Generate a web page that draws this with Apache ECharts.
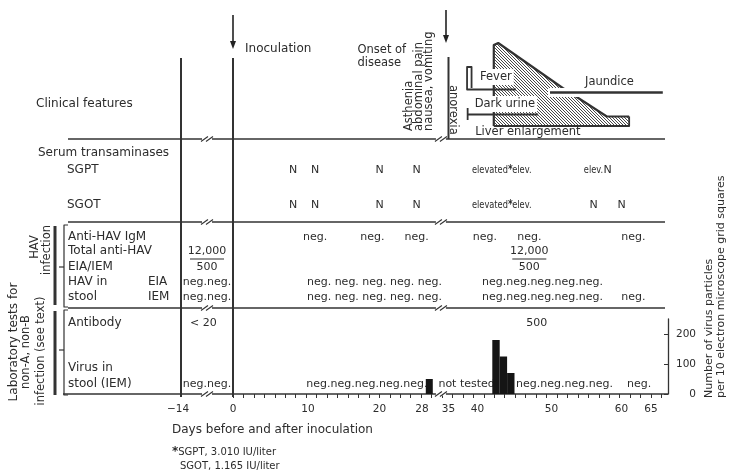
<!DOCTYPE html>
<html>
<head>
<meta charset="utf-8">
<title>Course of hepatitis after inoculation</title>
<script src="https://cdn.jsdelivr.net/npm/echarts@6/dist/echarts.min.js"></script>
<style>
  html, body { margin: 0; padding: 0; background: #ffffff; }
  #chart { width: 729px; height: 473px; }
</style>
</head>
<body>
<div id="chart"></div>
<script>
// ---------------- data ----------------
const dayTickLabels = [-14, 0, 10, 20, 28, 35, 40, 50, 60, 65];
const inoculationDay = 0;
const onsetDay = 35;

// virus particles per 10 electron-microscope grid squares (IEM of stool)
const virusDays = [29, 42, 43, 44];
const virusCounts = [50, 180, 125, 70];
const virusTicks = [0, 100, 200];

// serum transaminases
const sgptDays = [8, 11, 20, 27, 42, 46, 56, 58];
const sgptResults = ['N', 'N', 'N', 'N', 'elevated*', 'elev.', 'elev.', 'N'];
const sgotDays = [8, 11, 20, 27, 42, 46, 56, 60];
const sgotResults = ['N', 'N', 'N', 'N', 'elevated*', 'elev.', 'N', 'N'];

// HAV tests; runs are [first day, last day, results]
const igmDays = [11, 19, 27, 41, 47, 62];
const igmResults = ['neg.', 'neg.', 'neg.', 'neg.', 'neg.', 'neg.'];
const totalAntiHav = [[-14, 0, '12,000', '500'], [47, 47, '12,000', '500']];
const stoolEIA = [[-14, 0, 'neg.neg.'], [10, 33, 'neg. neg. neg. neg. neg.'], [40, 58, 'neg.neg.neg.neg.neg.']];
const stoolIEM = [[-14, 0, 'neg.neg.'], [10, 33, 'neg. neg. neg. neg. neg.'], [40, 58, 'neg.neg.neg.neg.neg.'], [62, 62, 'neg.']];

// non-A, non-B tests
const nanbAntibody = [[-14, -2, '< 20'], [48, 48, '500']];
const nanbVirusStool = [[-14, 0, 'neg.neg.'], [10, 29, 'neg.neg.neg.neg.neg.'], [33, 42, 'not tested'], [45, 59, 'neg.neg.neg.neg.'], [63, 63, 'neg.']];

// clinical features
const prodromeNames = ['Asthenia', 'abdominal pain', 'nausea, vomiting'];
const prodromeDays = [25.5, 27.4, 29.8];
const anorexiaDay = 35.7;
const feverSpan = [38.2, 45.2];
const darkUrineSpan = [38.3, 48.2];
const jaundiceSpan = [49.8, 67];
const liverStartDay = 39.6;
// hatched jaundice / dark-urine block: [day, relative intensity]
const jaundiceProfile = [[42.2, 0], [42.2, 81], [42.8, 83], [51.6, 38], [53.6, 29], [57.9, 9.5], [61.3, 9.5], [61.3, 0]];

// ---------------- scales ----------------
// The printed day axis is broken (before day 0 and after day 28) and is not
// uniform; it is defined by the horizontal offset of its labelled days from day 0.
const dayScale = [[-14, -52], [0, 0], [10, 75], [20, 146.5], [28, 189], [35, 215.5], [40, 244.5], [50, 318.5], [60, 388.5], [65, 418]];
function D(day) {
  const a = dayScale;
  let i = 0;
  if (day >= a[a.length - 1][0]) i = a.length - 2;
  else if (day > a[0][0]) { while (day > a[i + 1][0]) i++; }
  const [d0, u0] = a[i], [d1, u1] = a[i + 1];
  return u0 + (day - d0) * (u1 - u0) / (d1 - d0);
}
const TICK_STEP = 10.45;

// vertical layout: height above the day axis
const LV = {
  inocArrowTop: 379, onsetArrowTop: 384, arrowTip: 345, onsetArrowTip: 351,
  header1: 345, header2: 332, colTop: 336,
  clinical: 290, clinBase: 268, clinLine: 255, symptomFoot: 261,
  serum: 241, sgpt: 224, sgot: 189, line2: 172,
  igm: 157, total: 143, totalBar: 135, eiaIem: 127, stoolEia: 112, stoolIem: 97, line3: 86,
  antibody: 71, virus1: 26, virus2: 10, base: 0,
  tickLab: -15, title: -36, foot1: -58, foot2: -72
};

// ---------------- drawing specs ----------------
const INK = '#2c2c2c';
const FONT = '"DejaVu Sans", sans-serif';
const FS = 11;      // results
const FS_CAP = 12;  // captions and titles
const FS_CLIN = 11.5;
const specs = [];
const text = (u, lv, t, o = {}) => specs.push(Object.assign({ k: 'text', u, lv, t }, o));
const cap = (u, lv, t, o = {}) => text(u, lv, t, Object.assign({ size: FS_CAP }, o));
const line = (pts, o = {}) => specs.push(Object.assign({ k: 'line', pts }, o));
const runMid = r => (D(r[0]) + D(r[1])) / 2;
const clin = (day, h) => [D(day), LV.clinBase + h];

// hatched block and its outline
specs.push({ k: 'area', pts: jaundiceProfile.map(p => clin(p[0], p[1])) });
line(jaundiceProfile.slice(0, 7).map(p => clin(p[0], p[1])), { w: 2.2 });
line([clin(61.3, 9.5), clin(61.3, 0), clin(42.2, 0)], { w: 1.8 });
// jaundice course with a clear band around it
line([[D(jaundiceSpan[0]) - 2, LV.clinBase + 33.5], [D(jaundiceSpan[1]), LV.clinBase + 33.5]], { w: 9, color: '#ffffff' });
line([[D(jaundiceSpan[0]), LV.clinBase + 33.5], [D(jaundiceSpan[1]), LV.clinBase + 33.5]], { w: 2.5 });
// fever and dark urine courses
line([[D(feverSpan[0]) + 4.5, LV.clinBase + 38], [D(feverSpan[0]) + 4.5, LV.clinBase + 59], [D(feverSpan[0]), LV.clinBase + 59],
      [D(feverSpan[0]), LV.clinBase + 36.5], [D(feverSpan[1]), LV.clinBase + 36.5]], { w: 1.8 });
line([[D(darkUrineSpan[0]), LV.clinBase + 18], [D(darkUrineSpan[0]), LV.clinBase + 6]], { w: 1.8 });
line([[D(darkUrineSpan[0]), LV.clinBase + 11.5], [D(darkUrineSpan[1]), LV.clinBase + 11.5]], { w: 1.8 });
text(D(feverSpan[0]) + 11, LV.clinBase + 49, 'Fever', { bg: true, size: FS_CLIN });
text(D(darkUrineSpan[0]) + 5, LV.clinBase + 22, 'Dark urine', { bg: true, size: FS_CLIN });
text(D(jaundiceSpan[0]) + 35, LV.clinBase + 44, 'Jaundice', { size: FS_CLIN });
text(D(liverStartDay), LV.symptomFoot + 1, 'Liver enlargement', { size: FS_CLIN });

// prodrome
prodromeNames.forEach((n, i) => text(D(prodromeDays[i]), LV.symptomFoot + 2, n, { rot: 90, size: FS_CLIN }));
text(D(anorexiaDay), LV.symptomFoot + 48, 'anorexia', { rot: -90, size: FS_CLIN });

// inoculation and onset
specs.push({ k: 'arrow', u: D(inoculationDay), lv0: LV.inocArrowTop, lv1: LV.arrowTip });
specs.push({ k: 'arrow', u: D(onsetDay) - 2.5, lv0: LV.onsetArrowTop, lv1: LV.onsetArrowTip });
cap(D(inoculationDay) + 12, LV.header1, 'Inoculation');
text(D(onsetDay) - 91, LV.header1 - 1, 'Onset of', { size: FS_CLIN });
text(D(onsetDay) - 91, LV.header2 - 1, 'disease', { size: FS_CLIN });
line([[D(onsetDay), LV.colTop + 1], [D(onsetDay), LV.clinLine]], { w: 2 });

// table frame
line([[D(-14), -3], [D(-14), LV.colTop]], { w: 2 });
line([[D(0), -3], [D(0), LV.colTop]], { w: 2 });
const frameL = D(-14) - 113, frameR = D(65) + 12;
[LV.clinLine, LV.line2, LV.line3].forEach(lv => line([[frameL, lv], [frameR + 2, lv]], { w: 1.3 }));
line([[frameL - 5, LV.base], [frameR + 5, LV.base]], { w: 1.4 });
[LV.clinLine, LV.line2, LV.line3, LV.base].forEach(lv => {
  specs.push({ k: 'brk', u: D(-7), lv });
  specs.push({ k: 'brk', u: D(33), lv });
});

// row captions
const capL = frameL;
cap(capL - 32, LV.clinical, 'Clinical features');
cap(capL - 30, LV.serum, 'Serum transaminases');
cap(capL - 1, LV.sgpt, 'SGPT');
cap(capL - 1, LV.sgot, 'SGOT');
cap(capL, LV.igm, 'Anti-HAV IgM');
cap(capL, LV.total, 'Total anti-HAV');
cap(capL, LV.eiaIem, 'EIA/IEM');
cap(capL, LV.stoolEia, 'HAV in');
cap(capL, LV.stoolIem, 'stool');
cap(capL + 80, LV.stoolEia, 'EIA');
cap(capL + 80, LV.stoolIem, 'IEM');
cap(capL, LV.antibody, 'Antibody');
cap(capL, LV.virus1, 'Virus in');
cap(capL, LV.virus2, 'stool (IEM)');

// group brackets
const brL = capL - 4;
line([[brL - 9, LV.igm + 11], [brL - 9, LV.line3 + 3]], { w: 3 });
line([[brL - 9, LV.line3 - 3], [brL - 9, LV.base - 1]], { w: 3 });
line([[capL, LV.igm + 12], [brL, LV.igm + 12], [brL, LV.line3 + 1], [capL, LV.line3 + 1]], { w: 1.2 });
line([[capL, LV.line3 - 2], [brL, LV.line3 - 2], [brL, LV.base - 1], [capL, LV.base - 1]], { w: 1.2 });
line([[brL - 5, LV.eiaIem], [brL, LV.eiaIem]], { w: 1.2 });
line([[brL - 5, 44], [brL, 44]], { w: 1.2 });
text(capL - 33, 147, 'HAV', { rot: 90, align: 'center', size: FS_CLIN });
text(capL - 21, 144, 'infection', { rot: 90, align: 'center', size: FS_CLIN });
text(capL - 54.5, 52, 'Laboratory tests for', { rot: 90, align: 'center', size: 12 });
text(capL - 42, 42, 'non-A, non-B', { rot: 90, align: 'center', size: FS_CLIN });
text(capL - 27, 43, 'infection (see text)', { rot: 90, align: 'center', size: FS_CLIN });

// results
const starRich = { s: { fontSize: 12, fontWeight: 'bold', fill: INK, fontFamily: FONT } };
const enzymeItem = r => r === 'N'
  ? { align: 'center' }
  : { align: 'center', rich: starRich, sx: 0.75 };
const fmtRes = r => r === 'elevated*' ? 'elevated{s|*}' : r;
sgptDays.forEach((d, i) => text(D(d), LV.sgpt, fmtRes(sgptResults[i]), enzymeItem(sgptResults[i])));
sgotDays.forEach((d, i) => text(D(d), LV.sgot, fmtRes(sgotResults[i]), enzymeItem(sgotResults[i])));
igmDays.forEach((d, i) => text(D(d), LV.igm, igmResults[i], { align: 'center' }));
totalAntiHav.forEach(r => {
  text(runMid(r), LV.total, r[2], { align: 'center' });
  specs.push({ k: 'uline', u: runMid(r), lv: LV.totalBar, half: 17 });
  text(runMid(r), LV.eiaIem, r[3], { align: 'center' });
});
stoolEIA.forEach(r => text(runMid(r), LV.stoolEia, r[2], { align: 'center' }));
stoolIEM.forEach(r => text(runMid(r), LV.stoolIem, r[2], { align: 'center' }));
nanbAntibody.forEach(r => text(runMid(r), LV.antibody, r[2], { align: 'center' }));
nanbVirusStool.forEach(r => text(runMid(r), LV.virus2, r[2], { align: 'center' }));

// day axis labels and titles
dayTickLabels.forEach(d => text(D(d) - (d < 0 ? 3 : 0), LV.tickLab, d < 0 ? '\u2212' + Math.abs(d) : String(d), { align: 'center', size: 10.5 }));
cap(D(-14) - 9, LV.title, 'Days before and after inoculation');
text(D(-14) - 9, LV.foot1, '{s|*}SGPT, 3.010 IU/liter', { rich: starRich, size: 10 });
text(D(-14) - 1, LV.foot2, 'SGOT, 1.165 IU/liter', { size: 10 });
text(D(65) + 58, -4, 'Number of virus particles', { rot: 90 });
text(D(65) + 70, -4, 'per 10 electron microscope grid squares', { rot: 90 });

// ---------------- rendering ----------------
const hatch = (() => {
  const c = document.createElement('canvas');
  const n = 3;
  c.width = n; c.height = n;
  const g = c.getContext('2d');
  g.strokeStyle = '#333333';
  g.lineWidth = 0.9;
  g.beginPath();
  g.moveTo(0, 0); g.lineTo(n, n);
  g.moveTo(-1, n - 1); g.lineTo(1, n + 1);
  g.moveTo(n - 1, -1); g.lineTo(n + 1, 1);
  g.stroke();
  return c;
})();

function renderLayout(params, api) {
  const s = specs[params.dataIndex];
  const P = p => api.coord(p);
  if (s.k === 'text') {
    const [x, y] = P([s.u, s.lv]);
    const st = {
      text: s.t, fill: INK, fontSize: s.size || FS, fontFamily: FONT,
      align: s.align || 'left', verticalAlign: 'middle',
      textAlign: s.align || 'left', textVerticalAlign: 'middle'
    };
    if (s.rich) st.rich = s.rich;
    if (s.bg) { st.backgroundColor = '#ffffff'; st.padding = [2, 2]; }
    return { type: 'text', x, y, scaleX: s.sx || 1, rotation: (s.rot || 0) * Math.PI / 180, silent: true, style: st };
  }
  if (s.k === 'line') {
    return { type: 'polyline', silent: true, shape: { points: s.pts.map(P) },
      style: { stroke: s.color || '#333333', lineWidth: s.w || 1.3, fill: null, lineJoin: 'round' } };
  }
  if (s.k === 'area') {
    return { type: 'polygon', silent: true, shape: { points: s.pts.map(P) },
      style: { fill: { image: hatch, repeat: 'repeat' }, stroke: null } };
  }
  if (s.k === 'brk') {
    const [x, y] = P([s.u, s.lv]);
    const seg = dx => ({ type: 'line', shape: { x1: x + dx - 3.5, y1: y + 2.5, x2: x + dx + 3.5, y2: y - 2.5 },
      style: { stroke: '#333333', lineWidth: 1.1 } });
    return { type: 'group', silent: true, children: [
      { type: 'rect', shape: { x: x - 5, y: y - 1.5, width: 10, height: 3 }, style: { fill: '#ffffff' } },
      seg(-2.5), seg(2.5)] };
  }
  if (s.k === 'arrow') {
    const [x, y0] = P([s.u, s.lv0]);
    const [, y1] = P([s.u, s.lv1]);
    return { type: 'group', silent: true, children: [
      { type: 'line', shape: { x1: x, y1: y0, x2: x, y2: y1 - 6 }, style: { stroke: '#222', lineWidth: 1.6 } },
      { type: 'polygon', shape: { points: [[x - 3, y1 - 8], [x + 3, y1 - 8], [x, y1]] }, style: { fill: '#222' } }] };
  }
  if (s.k === 'uline') {
    const [x, y] = P([s.u, s.lv]);
    return { type: 'line', silent: true, shape: { x1: x - s.half, y1: y, x2: x + s.half, y2: y },
      style: { stroke: INK, lineWidth: 1.1 } };
  }
  return null;
}

function renderVirusBar(params, api) {
  const day = api.value(0), count = api.value(1);
  const [x0, yb] = api.coord([D(day), 0]);
  const [x1, yt] = api.coord([D(day + 1), count]);
  return { type: 'rect', shape: { x: x0, y: yt, width: Math.max(x1 - x0, 7), height: yb - yt },
    style: { fill: '#151515' } };
}

const ticksU = [];
for (let u = 0; u <= D(65) + 12; u += TICK_STEP) ticksU.push(+u.toFixed(2));

const chart = echarts.init(document.getElementById('chart'), null, { renderer: 'canvas' });
chart.setOption({
  animation: false,
  backgroundColor: '#ffffff',
  grid: [
    { left: 0, right: 0, top: 0, bottom: 0 },
    { left: 233, right: 61, top: 319, bottom: 79 }
  ],
  xAxis: [
    { gridIndex: 0, type: 'value', min: -233, max: 496, show: false },
    { gridIndex: 1, type: 'value', min: 0, max: 435,
      axisLine: { show: false, onZero: false }, splitLine: { show: false }, axisLabel: { show: false },
      axisTick: { show: true, length: 4, inside: false, customValues: ticksU, lineStyle: { color: '#333', width: 1 } } }
  ],
  yAxis: [
    { gridIndex: 0, type: 'value', min: -79, max: 394, show: false },
    { gridIndex: 1, type: 'value', position: 'right', min: 0, max: 250,
      splitLine: { show: false },
      axisLine: { show: true, onZero: false, lineStyle: { color: '#333', width: 1.3 } },
      axisTick: { show: true, inside: true, length: 4, customValues: virusTicks, lineStyle: { color: '#333' } },
      axisLabel: { show: true, customValues: virusTicks, margin: 28, align: 'right', color: INK, fontSize: 10.5, fontFamily: FONT } }
  ],
  series: [
    { type: 'custom', xAxisIndex: 0, yAxisIndex: 0, z: 2, clip: false, silent: true,
      data: specs.map(() => [0, 0]), renderItem: renderLayout },
    { type: 'custom', xAxisIndex: 1, yAxisIndex: 1, z: 5, clip: false, silent: true,
      data: virusDays.map((d, i) => [d, virusCounts[i]]), renderItem: renderVirusBar }
  ]
});
</script>
</body>
</html>
